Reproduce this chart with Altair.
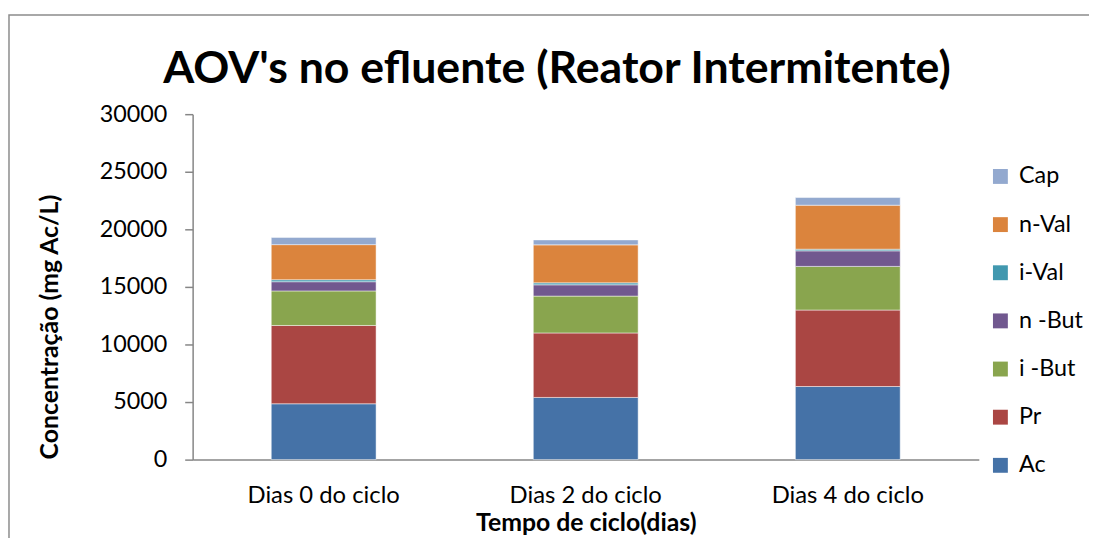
import altair as alt
import pandas as pd

categories = ["Dias 0 do ciclo", "Dias 2 do ciclo", "Dias 4 do ciclo"]
series = ["Ac", "Pr", "i -But", "n -But", "i-Val", "n-Val", "Cap"]
values = {
    "Ac": [4850, 5400, 6350],
    "Pr": [6800, 5600, 6640],
    "i -But": [3000, 3200, 3790],
    "n -But": [800, 980, 1350],
    "i-Val": [170, 170, 145],
    "n-Val": [3050, 3300, 3820],
    "Cap": [630, 430, 665],
}
colors = ["#4572A7", "#AA4643", "#89A54E", "#71588F", "#4198AF", "#DB843D", "#93A9CF"]
y_ticks = [0, 5000, 10000, 15000, 20000, 25000, 30000]

rows = []
for si, s in enumerate(series):
    for ci, c in enumerate(categories):
        rows.append({"cat": c, "serie": s, "idx": si, "val": values[s][ci]})
df = pd.DataFrame(rows)

FONT = "Lato"

bars = alt.Chart(df).mark_bar(stroke="white", strokeWidth=0.8, strokeOpacity=0.6).encode(
    x=alt.X("cat:N", sort=categories,
            scale=alt.Scale(paddingInner=0.6, paddingOuter=0.3),
            axis=alt.Axis(title="Tempo  de ciclo(dias)", labelAngle=0, ticks=False,
                          labelFontSize=24, labelFont=FONT, labelColor="black",
                          labelPadding=24, titleFont=FONT, titleFontSize=25,
                          titleFontWeight="bold", titleColor="black", titlePadding=3,
                          domainColor="#868686", domainWidth=1.5)),
    y=alt.Y("val:Q", stack="zero",
            scale=alt.Scale(domain=[0, 30000], nice=False),
            axis=alt.Axis(title="Concentração (mg Ac/L)", values=y_ticks, grid=False,
                          format="d", tickSize=8, tickColor="#868686", tickWidth=1.5,
                          domainColor="#868686", domainWidth=1.5,
                          labelFontSize=23.5, labelFont=FONT, labelColor="black",
                          labelPadding=18, titleFont=FONT, titleFontSize=25,
                          titleFontWeight="bold", titleColor="black",
                          titleX=-144, titleY=214, titleAngle=270,
                          titleAlign="center", titleBaseline="middle")),
    color=alt.Color("serie:N",
                    scale=alt.Scale(domain=series[::-1], range=colors[::-1]),
                    legend=alt.Legend(title=None, orient="none", legendX=802, legendY=51,
                                      symbolType="square", symbolSize=225,
                                      symbolStrokeWidth=0, labelFontSize=23.5,
                                      labelFont=FONT, labelColor="black",
                                      rowPadding=23.5, labelOffset=7)),
    order=alt.Order("idx:Q", sort="ascending"),
)

border = alt.Chart(pd.DataFrame({"a": [0]})).mark_rect(
    fill=None, stroke="#8c8c8c", strokeWidth=1.5
).encode(
    x=alt.value(-185), x2=alt.value(960), y=alt.value(-100), y2=alt.value(460)
)

chart = alt.layer(border, bars).properties(
    width=792, height=348,
    autosize=alt.AutoSizeParams(type="none"),
    padding={"left": 186, "top": 105, "right": 111, "bottom": 77},
    title=alt.TitleParams("AOV's no efluente (Reator Intermitente)", font=FONT,
                          fontSize=45, fontWeight="bold", color="black",
                          anchor="middle", frame="group", dx=-29, offset=-78),
).configure_view(stroke=None)

chart.save("out.html", embed_options={"renderer": "svg", "actions": False})
